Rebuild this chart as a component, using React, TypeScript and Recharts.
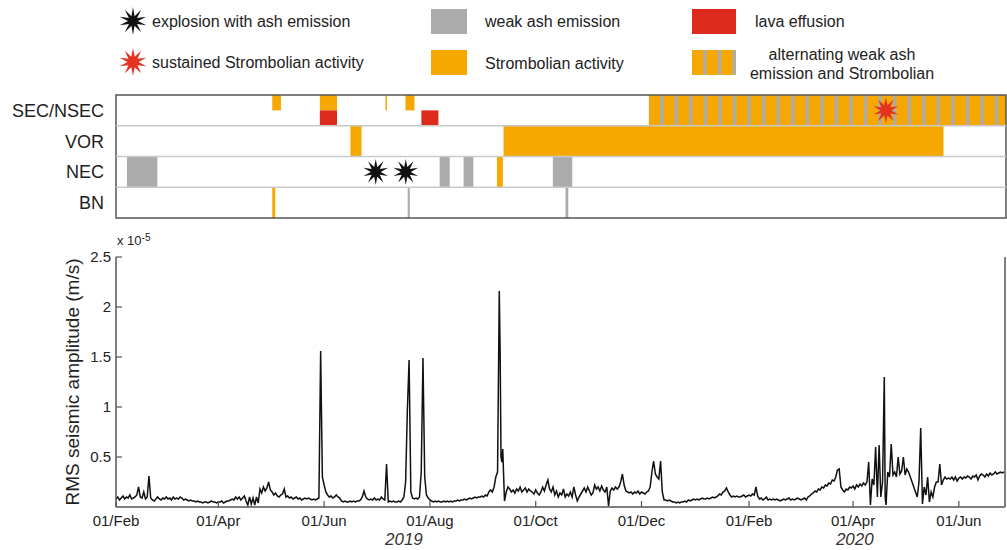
import React from 'react';
import {
  ComposedChart,
  LineChart,
  Line,
  Scatter,
  XAxis,
  YAxis,
  ReferenceArea,
  ReferenceLine,
} from 'recharts';

const FONT = '"Liberation Sans", Arial, sans-serif';
const ORANGE = '#f6a800';
const GREY = '#ababab';
const RED = '#dc2b1c';
const INK = '#222';

// days counted from 01/Feb/2019
const DAY_END = 512.6;

// activity panel rows, top to bottom
const vents = ['SEC/NSEC', 'VOR', 'NEC', 'BN'];

// spans: from/to in days, y0/y1 in row units (0 = top of SEC/NSEC)
const strombolian = [
  { from: 90, to: 95, y0: 0, y1: 0.5 },
  { from: 117.4, to: 127.3, y0: 0, y1: 0.5 },
  { from: 155.2, to: 156.1, y0: 0, y1: 0.5 },
  { from: 166.7, to: 171.9, y0: 0, y1: 0.5 },
  { from: 135, to: 141.4, y0: 1, y1: 2 },
  { from: 223.2, to: 476.6, y0: 1, y1: 2 },
  { from: 219.4, to: 222.8, y0: 2, y1: 3 },
  { from: 90, to: 91.7, y0: 3, y1: 4 },
];
const lavaEffusion = [
  { from: 117.4, to: 127.3, y0: 0.5, y1: 1 },
  { from: 175.9, to: 185.7, y0: 0.5, y1: 1 },
];
const weakAsh = [
  { from: 6.3, to: 23.8, y0: 2, y1: 3 },
  { from: 186.4, to: 192.2, y0: 2, y1: 3 },
  { from: 200.2, to: 205.8, y0: 2, y1: 3 },
  { from: 251.6, to: 262.8, y0: 2, y1: 3 },
  { from: 168, to: 169.2, y0: 3, y1: 4 },
  { from: 258.9, to: 260.5, y0: 3, y1: 4 },
];
const alternating = [{ from: 306.9, to: DAY_END, y0: 0, y1: 1 }];
const explosions = [
  { day: 149.6, row: 2.5 },
  { day: 166.9, row: 2.5 },
];
const sustained = [{ day: 443.4, row: 0.5 }];

// RMS amplitude, x 10^-5 m/s, one value per day from 01/Feb/2019
const rmsDaily = [
  0.08, 0.1, 0.07, 0.09, 0.11, 0.08, 0.1, 0.09, 0.12, 0.08,
  0.09, 0.1, 0.12, 0.2, 0.1, 0.09, 0.15, 0.08, 0.1, 0.31,
  0.09, 0.07, 0.06, 0.08, 0.1, 0.08, 0.07, 0.09, 0.08, 0.1,
  0.08, 0.09, 0.07, 0.1, 0.08, 0.09, 0.08, 0.1, 0.09, 0.07,
  0.08, 0.07, 0.06, 0.07, 0.06, 0.06, 0.05, 0.06, 0.05, 0.05,
  0.04, 0.05, 0.05, 0.04, 0.05, 0.06, 0.05, 0.05, 0.04, 0.05,
  0.05, 0.06, 0.04, 0.05, 0.06, 0.06, 0.07, 0.08, 0.07, 0.1,
  0.08, 0.1, 0.07, 0.09, 0.11, 0.06, 0.02, 0.1, 0.03, 0.09,
  0.02, 0.1, 0.04, 0.18, 0.14, 0.2, 0.16, 0.19, 0.25, 0.17,
  0.15, 0.12, 0.14, 0.11, 0.1, 0.12, 0.13, 0.18, 0.1, 0.11,
  0.09, 0.1, 0.08, 0.09, 0.1, 0.08, 0.09, 0.07, 0.08, 0.09,
  0.08, 0.09, 0.08, 0.07, 0.08, 0.07, 0.08, 0.09, 1.56, 0.3,
  0.22, 0.15, 0.12, 0.1, 0.11, 0.09, 0.1, 0.12, 0.1, 0.09,
  0.06, 0.05, 0.06, 0.05, 0.05, 0.06, 0.05, 0.06, 0.05, 0.06,
  0.06, 0.07, 0.1, 0.16, 0.1, 0.08, 0.07, 0.08, 0.07, 0.09,
  0.07, 0.08, 0.07, 0.1, 0.08, 0.07, 0.43, 0.05, 0.06, 0.05,
  0.06, 0.05, 0.05, 0.06, 0.05, 0.07, 0.1, 0.25, 0.97, 1.47,
  0.15, 0.09, 0.08, 0.09, 0.08, 0.1, 0.35, 1.49, 0.3, 0.12,
  0.09, 0.07, 0.06, 0.05, 0.06, 0.05, 0.06, 0.05, 0.05, 0.06,
  0.05, 0.06, 0.05, 0.06, 0.05, 0.06, 0.06, 0.07, 0.06, 0.07,
  0.07, 0.08, 0.07, 0.08, 0.09, 0.08, 0.09, 0.1, 0.09, 0.1,
  0.1, 0.11, 0.1, 0.12, 0.11, 0.15, 0.17, 0.15, 0.2, 0.3,
  0.35, 2.16, 0.5, 0.58, 0.06, 0.15, 0.2, 0.18, 0.15, 0.17,
  0.14, 0.18, 0.16, 0.2, 0.15, 0.17, 0.19, 0.15, 0.18, 0.16,
  0.15, 0.13, 0.17, 0.14, 0.12, 0.15, 0.2, 0.16, 0.22, 0.27,
  0.18, 0.15, 0.2, 0.12, 0.16, 0.1, 0.14, 0.12, 0.18, 0.1,
  0.13, 0.11, 0.15, 0.1, 0.2, 0.12, 0.06, 0.1, 0.13, 0.16,
  0.19, 0.15, 0.2, 0.16, 0.12, 0.14, 0.22, 0.18, 0.2, 0.16,
  0.21, 0.17, 0.15, 0.2, 0.01, 0.16, 0.19, 0.17, 0.2, 0.18,
  0.2, 0.25, 0.33, 0.22, 0.16, 0.15, 0.14, 0.15, 0.13, 0.15,
  0.14, 0.16, 0.13, 0.15, 0.14, 0.13, 0.15, 0.16, 0.2, 0.35,
  0.46, 0.33, 0.3, 0.28, 0.46, 0.15, 0.07, 0.07, 0.06, 0.07,
  0.06, 0.05, 0.05, 0.04, 0.05, 0.04, 0.05, 0.05, 0.06, 0.05,
  0.07, 0.06, 0.07, 0.08, 0.07, 0.08, 0.07, 0.08, 0.09, 0.08,
  0.08, 0.09, 0.08, 0.09, 0.1, 0.09, 0.1, 0.11, 0.13, 0.12,
  0.15, 0.16, 0.19, 0.15, 0.12, 0.1, 0.11, 0.1, 0.11, 0.1,
  0.1, 0.11, 0.12, 0.1, 0.11, 0.12, 0.11, 0.13, 0.12, 0.2,
  0.11, 0.08, 0.09, 0.07, 0.08, 0.1, 0.07, 0.08, 0.07, 0.08,
  0.07, 0.08, 0.07, 0.06, 0.07, 0.08, 0.07, 0.08, 0.09, 0.07,
  0.08, 0.07, 0.08, 0.09, 0.08, 0.07, 0.08, 0.09, 0.07, 0.1,
  0.11, 0.13, 0.14, 0.16, 0.15, 0.18, 0.17, 0.2, 0.19, 0.22,
  0.21, 0.24, 0.23, 0.27, 0.26, 0.3, 0.37, 0.38, 0.2, 0.17,
  0.15, 0.18, 0.17, 0.2, 0.19, 0.21, 0.18, 0.22, 0.2, 0.23,
  0.21, 0.24, 0.22, 0.25, 0.45, 0.02, 0.28, 0.22, 0.6, 0.1,
  0.62, 0.1, 0.25, 1.3, 0.02, 0.35, 0.3, 0.63, 0.32, 0.35,
  0.3, 0.5, 0.33, 0.36, 0.5, 0.32, 0.38, 0.35, 0.3, 0.25,
  0.2, 0.15, 0.1, 0.25, 0.79, 0.03, 0.2, 0.12, 0.3, 0.05,
  0.15, 0.1, 0.2, 0.25, 0.25, 0.43, 0.22, 0.27, 0.3, 0.28,
  0.29, 0.28, 0.3, 0.27, 0.3, 0.26, 0.29, 0.3, 0.28, 0.3,
  0.29, 0.31, 0.3, 0.28, 0.31, 0.3, 0.32, 0.27, 0.31, 0.33,
  0.32, 0.3, 0.33, 0.31, 0.34, 0.32, 0.33, 0.35, 0.33, 0.34,
  0.35, 0.34, 0.35,
];
// secondary peaks between daily samples: [day, value]
const rmsExtra: [number, number][] = [
  [118.5, 0.92],
  [221.5, 1.54],
  [222.5, 0.45],
  [443.5, 0.1],
];

const monthTicks = [0, 59, 120, 181, 242, 303, 365, 425, 486];
const monthLabels = ['01/Feb', '01/Apr', '01/Jun', '01/Aug', '01/Oct', '01/Dec', '01/Feb', '01/Apr', '01/Jun'];
const yearTicks = [166, 426];
const yearLabels = ['2019', '2020'];
const ampTicks = [0.5, 1, 1.5, 2, 2.5];

const rmsData = [
  ...rmsDaily.map((v, i) => ({ day: i, rms: v })),
  ...rmsExtra.map(([d, v]) => ({ day: d, rms: v })),
].sort((a, b) => a.day - b.day);

function starPath(cx: number, cy: number, ro: number, ri: number, n: number) {
  let d = '';
  for (let i = 0; i < 2 * n; i++) {
    const r = i % 2 === 0 ? ro : ri;
    const a = -Math.PI / 2 + (i * Math.PI) / n;
    d += (i ? 'L' : 'M') + (cx + r * Math.cos(a)).toFixed(2) + ',' + (cy + r * Math.sin(a)).toFixed(2);
  }
  return d + 'Z';
}

const BlackStar = (p: any) => <path d={starPath(p.cx, p.cy, 13, 5, 10)} fill="#111" />;
const RedStar = (p: any) => <path d={starPath(p.cx, p.cy, 13, 5.5, 10)} fill="#e3321f" />;

const Legend = () => (
  <svg width={1007} height={88} style={{ position: 'absolute', left: 0, top: 0 }}>
    <defs>
      <pattern id="legAlt" patternUnits="userSpaceOnUse" x={692} y={0} width={14.6} height={10}>
        <rect width={14.6} height={10} fill={ORANGE} />
        <rect x={11.2} width={3.4} height={10} fill={GREY} />
      </pattern>
    </defs>
    <g fontFamily={FONT} fontSize={16} fill={INK}>
      <path d={starPath(133, 21, 14, 5, 10)} fill="#111" />
      <text x={152} y={27}>explosion with ash emission</text>
      <rect x={431} y={9} width={36} height={25} fill={GREY} />
      <text x={485} y={27}>weak ash emission</text>
      <rect x={692} y={9} width={44} height={25} fill={RED} />
      <text x={755} y={27}>lava effusion</text>
      <path d={starPath(133, 62, 14, 5.5, 10)} fill="#e3321f" />
      <text x={152} y={68}>sustained Strombolian activity</text>
      <rect x={431} y={50} width={36} height={25} fill={ORANGE} />
      <text x={485} y={69}>Strombolian activity</text>
      <rect x={692} y={50} width={44} height={25} fill="url(#legAlt)" />
      <text x={842} y={60} textAnchor="middle">alternating weak ash</text>
      <text x={842} y={79} textAnchor="middle">emission and Strombolian</text>
    </g>
  </svg>
);

const ActivityPanel = () => (
  <div style={{ position: 'absolute', left: 0, top: 88 }}>
    <ComposedChart width={1007} height={140} margin={{ top: 7, right: 1, bottom: 10, left: 0 }}>
      <defs>
        <pattern id="altStripes" patternUnits="userSpaceOnUse" x={660} y={0} width={14.56} height={10}>
          <rect width={14.56} height={10} fill={ORANGE} />
          <rect x={0} width={3.4} height={10} fill={GREY} />
        </pattern>
      </defs>
      <XAxis type="number" dataKey="day" domain={[0, DAY_END]} hide />
      <YAxis
        type="number"
        dataKey="row"
        domain={[0, 4]}
        reversed
        width={116}
        ticks={[0.5, 1.5, 2.5, 3.5]}
        tickFormatter={(v: number) => vents[Math.floor(v)]}
        tick={{ fill: INK, fontSize: 18, fontFamily: FONT }}
        tickLine={false}
        axisLine={false}
        tickSize={0}
        tickMargin={12}
      />
      {[1, 2, 3].map((y) => (
        <ReferenceLine key={y} y={y} stroke="#c9c9c9" strokeWidth={1.5} />
      ))}
      {weakAsh.map((s, i) => (
        <ReferenceArea key={'w' + i} x1={s.from} x2={s.to} y1={s.y0} y2={s.y1} fill={GREY} fillOpacity={1} stroke="none" />
      ))}
      {strombolian.map((s, i) => (
        <ReferenceArea key={'s' + i} x1={s.from} x2={s.to} y1={s.y0} y2={s.y1} fill={ORANGE} fillOpacity={1} stroke="none" />
      ))}
      {lavaEffusion.map((s, i) => (
        <ReferenceArea key={'l' + i} x1={s.from} x2={s.to} y1={s.y0} y2={s.y1} fill={RED} fillOpacity={1} stroke="none" />
      ))}
      {alternating.map((s, i) => (
        <ReferenceArea key={'a' + i} x1={s.from} x2={s.to} y1={s.y0} y2={s.y1} fill="url(#altStripes)" fillOpacity={1} stroke="none" />
      ))}
      <ReferenceArea x1={0} x2={DAY_END} y1={0} y2={4} fill="none" stroke="#555" strokeWidth={1.5} />
      <Scatter data={explosions} dataKey="row" shape={BlackStar} isAnimationActive={false} />
      <Scatter data={sustained} dataKey="row" shape={RedStar} isAnimationActive={false} />
    </ComposedChart>
  </div>
);

const BottomTick = (p: any) => {
  const i = monthTicks.indexOf(p.payload.value);
  return (
    <g>
      <line x1={p.x} x2={p.x} y1={p.y} y2={p.y - 6} stroke="#555" strokeWidth={1.2} />
      <text x={p.x} y={p.y + 19} textAnchor="middle" fontSize={15} fontFamily={FONT} fill={INK}>
        {monthLabels[i]}
      </text>
    </g>
  );
};
const TopTick = (p: any) => (
  <line x1={p.x} x2={p.x} y1={p.y} y2={p.y + 6} stroke="#555" strokeWidth={1.2} />
);
const YearTick = (p: any) => (
  <text x={p.x} y={p.y + 14} textAnchor="middle" fontSize={17} fontStyle="italic" fontFamily={FONT} fill="#333">
    {yearLabels[yearTicks.indexOf(p.payload.value)]}
  </text>
);
const LeftTick = (p: any) => (
  <g>
    <line x1={p.x} x2={p.x + 6} y1={p.y} y2={p.y} stroke="#555" strokeWidth={1.2} />
    <text x={p.x - 5} y={p.y + 5} textAnchor="end" fontSize={15} fontFamily={FONT} fill={INK}>
      {p.payload.value}
    </text>
  </g>
);
const RightTick = (p: any) => (
  <line x1={p.x} x2={p.x - 6} y1={p.y} y2={p.y} stroke="#555" strokeWidth={1.2} />
);

const AmpLabel = (p: any) => {
  const vb = p.viewBox;
  const cx = vb.x + 72;
  const cy = vb.y + vb.height / 2;
  return (
    <text
      x={cx}
      y={cy}
      transform={`rotate(-90 ${cx} ${cy})`}
      textAnchor="middle"
      dominantBaseline="central"
      fontSize={19}
      fontFamily={FONT}
      fill={INK}
    >
      RMS seismic amplitude (m/s)
    </text>
  );
};

const RmsChart = () => (
  <div style={{ position: 'absolute', left: 0, top: 230 }}>
    <LineChart width={1007} height={320} data={rmsData} margin={{ top: 27, right: 1, bottom: 0, left: 0 }}>
      <XAxis
        type="number"
        dataKey="day"
        domain={[0, DAY_END]}
        ticks={monthTicks}
        tick={<BottomTick />}
        tickLine={false}
        tickSize={0}
        tickMargin={0}
        interval={0}
        height={24}
        axisLine={{ stroke: '#555', strokeWidth: 1.5 }}
      />
      <XAxis
        xAxisId="year"
        type="number"
        dataKey="day"
        domain={[0, DAY_END]}
        ticks={yearTicks}
        tick={<YearTick />}
        tickLine={false}
        tickSize={0}
        tickMargin={0}
        interval={0}
        height={19}
        axisLine={false}
      />
      <XAxis
        xAxisId="top"
        orientation="top"
        type="number"
        dataKey="day"
        domain={[0, DAY_END]}
        ticks={monthTicks}
        tick={<TopTick />}
        tickLine={false}
        tickSize={0}
        tickMargin={0}
        interval={0}
        height={0}
        axisLine={{ stroke: '#555', strokeWidth: 1.5 }}
      />
      <YAxis
        type="number"
        domain={[0, 2.5]}
        ticks={ampTicks}
        tick={<LeftTick />}
        tickLine={false}
        tickSize={0}
        tickMargin={0}
        interval={0}
        width={116}
        axisLine={{ stroke: '#555', strokeWidth: 1.5 }}
        label={<AmpLabel />}
      />
      <YAxis
        yAxisId="right"
        orientation="right"
        type="number"
        domain={[0, 2.5]}
        ticks={ampTicks}
        tick={<RightTick />}
        tickLine={false}
        tickSize={0}
        tickMargin={0}
        interval={0}
        width={1}
        axisLine={{ stroke: '#555', strokeWidth: 1.5 }}
      />
      <Line
        type="linear"
        dataKey="rms"
        stroke="#111"
        strokeWidth={1.5}
        dot={false}
        isAnimationActive={false}
      />
    </LineChart>
  </div>
);

export default function App() {
  return (
    <div style={{ position: 'absolute', left: 0, top: 0, width: 1007, height: 550, background: '#fff', fontFamily: FONT }}>
      <Legend />
      <ActivityPanel />
      <RmsChart />
      <div style={{ position: 'absolute', left: 117, top: 234, fontSize: 13, color: INK, lineHeight: '14px' }}>
        x 10<sup style={{ fontSize: 10, verticalAlign: 'top', position: 'relative', top: -3 }}>-5</sup>
      </div>
    </div>
  );
}
